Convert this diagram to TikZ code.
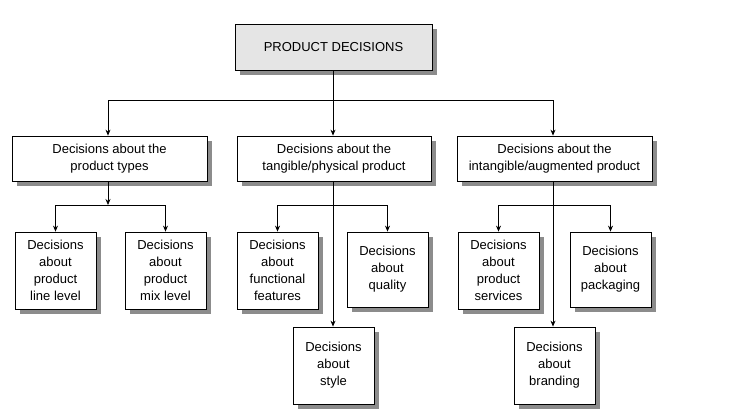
\documentclass[tikz,border=0pt]{standalone}
\usepackage{fontspec}
\setmainfont{Liberation Sans}
\usetikzlibrary{arrows.meta}
\begin{document}
\begin{tikzpicture}[x=1pt,y=-1pt,
  box/.style={draw,line width=0.8pt,fill=white,align=center,inner sep=0pt,font=\fontsize{13}{17}\selectfont,
    preaction={draw=none,fill=black!45,transform canvas={shift={(5pt,-5pt)}}}},
  arr/.style={-{Stealth[length=6pt,width=5pt]},line width=0.7pt},
  ln/.style={line width=0.7pt}]
\useasboundingbox (0,0) rectangle (733,416);
\newcommand{\bx}[6]{\node[box,minimum width=#4-#2,minimum height=#5-#3,#6] (#1) at ({(#2+#4)/2},{(#3+#5)/2}) {\strut};}
\node[box,fill=black!10,minimum width=197pt,minimum height=46pt] (top) at (333.5,47) {PRODUCT DECISIONS};
\node[box,minimum width=195pt,minimum height=45pt] (a) at (109.5,158.5) {Decisions about the\\product types};
\node[box,minimum width=194pt,minimum height=45pt] (b) at (334,158.5) {Decisions about the\\tangible/physical product};
\node[box,minimum width=195pt,minimum height=45pt] (c) at (554.5,158.5) {Decisions about the\\intangible/augmented product};
\tikzset{small/.style={box,minimum width=81pt,minimum height=77pt}}
\node[small] (a1) at (55.5,270.5) {Decisions\\about\\product\\line level};
\node[small] (a2) at (165.5,270.5) {Decisions\\about\\product\\mix level};
\node[small] (b1) at (277.5,270.5) {Decisions\\about\\functional\\features};
\node[small,minimum height=75pt] (b2) at (387.5,269.5) {Decisions\\about\\quality};
\node[small] (b3) at (333.5,365.5) {Decisions\\about\\style};
\node[small] (c1) at (498.5,270.5) {Decisions\\about\\product\\services};
\node[small,minimum height=75pt] (c2) at (610.5,269.5) {Decisions\\about\\packaging};
\node[small] (c3) at (554.5,365.5) {Decisions\\about\\branding};
\coordinate (j0) at (333,100);
\coordinate (ja) at (108,205);
\draw[ln] (top.south -| j0) -- (j0);
\draw[arr] (108,100) -- (a.north -| 108,0);
\draw[arr] (j0) -- (b.north -| j0);
\draw[arr] (108,100) -| (c.north -| 553,0);
\draw[arr] (a.south -| ja) -- (ja);
\draw[arr] (ja) -| (a1.north);
\draw[arr] (ja) -| (a2.north);
\draw[arr] (b.south -| 333,0) -- (b3.north -| 333,0);
\draw[arr] (333,205) -| (b1.north);
\draw[arr] (333,205) -| (b2.north);
\draw[arr] (c.south -| 553,0) -- (c3.north -| 553,0);
\draw[arr] (553,205) -| (c1.north);
\draw[arr] (553,205) -| (c2.north);
\end{tikzpicture}
\end{document}
